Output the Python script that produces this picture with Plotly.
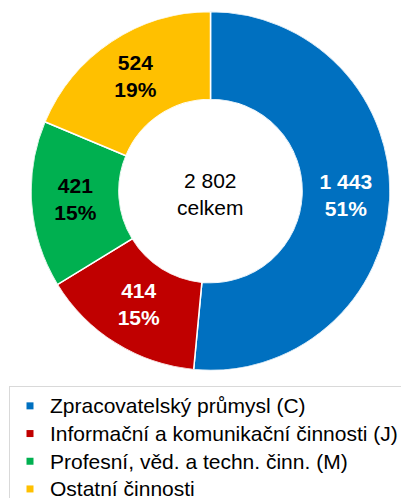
import plotly.graph_objects as go

categories = ["Zpracovatelský průmysl (C)", "Informační a komunikační činnosti (J)",
              "Profesní, věd. a techn. činn. (M)", "Ostatní činnosti"]
values = [1443, 414, 421, 524]
colors = ["#0070C0", "#C00000", "#00B050", "#FFC000"]
text_colors = ["white", "white", "black", "black"]
center_label = "celkem"

total = sum(values)
FONT = "Liberation Sans, Arial, sans-serif"
HOLE = 0.51
DOM_X = [31/401, 390/401]
DOM_Y = [1-371/498, 1-11/498]

def fmt(v):
    return f"{v:,}".replace(",", " ")

# slice middles and widths (degrees, clockwise from top)
cum = 0
mid_theta, widths, label_text = [], [], []
for v in values:
    mid_theta.append(360 * (cum + v / 2) / total)
    widths.append(360 * v / total)
    cum += v
    label_text.append(f"<b>{fmt(v)}<br>{round(100 * v / total)}%</b>")

fig = go.Figure()
fig.add_trace(go.Barpolar(
    theta=mid_theta, r=[1] * len(values), width=widths,
    marker=dict(color=colors, line=dict(color="white", width=1.5)),
    customdata=categories, hovertemplate="%{customdata}<extra></extra>",
    showlegend=False,
))
fig.add_trace(go.Scatterpolar(
    theta=mid_theta, r=[0.5] * len(values), mode="text",
    text=label_text, textposition="middle center",
    textfont=dict(family=FONT, size=21, color=text_colors),
    showlegend=False, hoverinfo="skip",
))
for name, col in zip(categories, colors):
    fig.add_trace(go.Scatter(x=[None], y=[None], mode="markers",
                             name=f'<span style="font-size:21px">{name}</span>',
                             marker=dict(symbol="square", size=7, color=col)))

fig.add_annotation(text=fmt(total) + "<br>" + center_label,
                   x=210.5/401, y=1-194/498, xref="paper", yref="paper",
                   showarrow=False, font=dict(family=FONT, size=21, color="black"))

fig.update_layout(
    width=401, height=498,
    margin=dict(l=0, r=0, t=0, b=0, autoexpand=False),
    paper_bgcolor="white", plot_bgcolor="white",
    xaxis=dict(visible=False), yaxis=dict(visible=False),
    polar=dict(domain=dict(x=DOM_X, y=DOM_Y), bgcolor="rgba(0,0,0,0)", hole=HOLE,
               bargap=0,
               angularaxis=dict(visible=False, direction="clockwise", rotation=90,
                                showgrid=False),
               radialaxis=dict(visible=False, range=[0, 1], showgrid=False)),
    font=dict(family=FONT, color="black"),
    legend=dict(x=9/401, xanchor="left", y=1-386/498, yanchor="top",
                bordercolor="#d9d9d9", borderwidth=1, bgcolor="white",
                font=dict(family=FONT, size=19, color="black"),
                traceorder="normal"),
)
fig.write_html("out.html", post_script="document.body.style.margin='0';",
               config={"displayModeBar": False})
